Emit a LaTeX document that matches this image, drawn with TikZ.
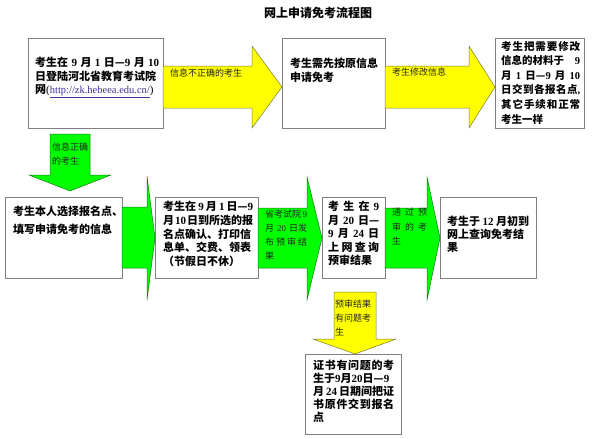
\documentclass[tikz,border=0pt]{standalone}
\usepackage{fontspec}
\setmainfont{Noto Sans CJK SC}
\newfontfamily\latf{Liberation Serif}
\newcommand\nm[1]{{\latf #1}}
\usetikzlibrary{calc}
\definecolor{ylw}{RGB}{255,255,0}
\definecolor{grn}{RGB}{0,255,0}
\definecolor{bdr}{RGB}{128,128,128}
\definecolor{lnk}{RGB}{60,50,150}
\definecolor{ylwedge}{RGB}{120,120,60}
\definecolor{grnedge}{RGB}{20,120,20}
\begin{document}
\begin{tikzpicture}[x=1pt,y=-1pt,
  box/.style={draw=bdr, line width=1.2pt, fill=white, anchor=north west, inner sep=0pt},
  txt/.style={anchor=north west, inner sep=0pt, align=left, font=\bfseries\fontsize{11}{13.5}\selectfont},
  lbl/.style={anchor=north west, inner sep=0pt, align=left, text=black!85, font=\fontsize{9}{14}\selectfont},
  yarrow/.style={fill=ylw, draw=ylwedge, line width=0.5pt},
  garrow/.style={fill=grn, draw=grnedge, line width=0.5pt}]
\fill[white] (0,0) rectangle (595,439);
\useasboundingbox (0,0) rectangle (595,439);

\node[font=\bfseries\fontsize{12}{14}\selectfont] (title) at (318,13) {网上申请免考流程图};

% boxes
\node[box, minimum width=135pt, minimum height=90pt] (b1) at (28,38) {};
\node[box, minimum width=103pt, minimum height=90pt] (b2) at (282,38) {};
\node[box, minimum width=89pt, minimum height=90pt] (b3) at (495,38) {};
\node[box, minimum width=117pt, minimum height=81pt] (b4) at (5,197) {};
\node[box, minimum width=103pt, minimum height=81pt] (b5) at (155,197) {};
\node[box, minimum width=63pt, minimum height=81pt] (b6) at (322,197) {};
\node[box, minimum width=96pt, minimum height=81pt] (b7) at (440,197) {};
\node[box, minimum width=96pt, minimum height=80pt] (b8) at (305,354) {};

% arrows
\draw[yarrow] (163,66) -- (252,66) -- (252,46) -- (282,87) -- (252,128) -- (252,108) -- (163,108) -- cycle;
\draw[yarrow] (385,66) -- (469,66) -- (469,46) -- (495,87) -- (469,128) -- (469,108) -- (385,108) -- cycle;
\draw[garrow] (50,134) -- (90,134) -- (90,175) -- (111,175) -- (70,191) -- (29,175) -- (50,175) -- cycle;
\draw[garrow] (122,207) -- (147,207) -- (147,176) -- (155,238) -- (147,300) -- (147,268) -- (122,268) -- cycle;
\draw[garrow] (258,208) -- (307,208) -- (307,177) -- (322,238) -- (307,300) -- (307,268) -- (258,268) -- cycle;
\draw[garrow] (385,208) -- (427,208) -- (427,177) -- (440,238) -- (427,300) -- (427,268) -- (385,268) -- cycle;
\draw[yarrow] (334,292) -- (376,292) -- (376,339) -- (396,339) -- (355,354) -- (313,339) -- (334,339) -- cycle;

% box texts
\node[txt, text width=124pt] (t1) at (35,57) {考生在\hfill\nm{9}\hfill 月\hfill\nm{1}\hfill 日—\nm{9}\hfill 月\hfill\nm{10}\\日登陆河北省教育考试院\\网{\latf\mdseries(}{\latf\mdseries\fontsize{10.5}{12}\selectfont\color{lnk}\underline{http://zk.hebeea.edu.cn/}}{\latf\mdseries)}};
\node[txt, text width=92pt] (t2) at (290,58) {考生需先按原信息\\申请免考};
\node[txt, text width=79pt, font=\bfseries\fontsize{10.5}{14.6}\selectfont] (t3) at (501,41) {考\hfill 生\hfill 把\hfill 需\hfill 要\hfill 修\hfill 改\\信息的材料于\hfill\nm{9}\\月\hfill\nm{1}\hfill 日—\nm{9}\hfill 月\hfill\nm{10}\\日\hfill 交\hfill 到\hfill 各\hfill 报\hfill 名\hfill 点{\latf ,}\\其\hfill 它\hfill 手\hfill 续\hfill 和\hfill 正\hfill 常\\考生一样};
\node[txt, text width=105pt, font=\bfseries\fontsize{11}{18}\selectfont] (t4) at (13,206) {考生本人选择报名点、\\填写申请免考的信息};
\node[txt, text width=90pt, font=\bfseries\fontsize{11}{13.75}\selectfont] (t5) at (163,201) {考生在\hfill\nm{9}\hfill 月\hfill\nm{1}\hfill 日—\nm{9}\\月\hfill\nm{10}\hfill 日到所选的报\\名点确认、打印信\\息单、交费、领表\\（节假日不休）};
\node[txt, text width=51pt] (t6) at (328,201) {考\hfill 生\hfill 在\hfill\nm{9}\\月\hfill\nm{20}\hfill 日—\\\nm{9}\hfill 月\hfill\nm{24}\hfill 日\\上\hfill 网\hfill 查\hfill 询\\预审结果};
\node[txt, text width=82pt, font=\bfseries\fontsize{11}{13}\selectfont] (t7) at (447,216) {考生于\hfill\nm{12}\hfill 月初到\\网上查询免考结\\果};
\node[txt, text width=81pt, font=\bfseries\fontsize{11}{13}\selectfont] (t8) at (313,360) {证\hfill 书\hfill 有\hfill 问\hfill 题\hfill 的\hfill 考\\生于\nm{9}月\nm{20}日—\nm{9}\\月\hfill\nm{24}\hfill 日期间把证\\书\hfill 原\hfill 件\hfill 交\hfill 到\hfill 报\hfill 名\\点};

% arrow labels
\node[lbl] (l1) at (170,69) {信息不正确的考生};
\node[lbl] (l2) at (392,68) {考生修改信息};
\node[lbl, text width=38pt, font=\fontsize{9}{13.5}\selectfont] (l3) at (52,143) {信息正确\\的考生};
\node[lbl, text width=42pt] (l4) at (265,210) {省考试院\hfill\nm{9}\\月\hfill\nm{20}\hfill 日发\\布\hfill 预\hfill 审\hfill 结\\果};
\node[lbl, text width=35pt, font=\fontsize{9}{14.5}\selectfont] (l5) at (392,208) {通\hfill 过\hfill 预\\审\hfill 的\hfill 考\\生};
\node[lbl, text width=40pt] (l6) at (335,300) {预审结果\\有问题考\\生};
\end{tikzpicture}
\end{document}
